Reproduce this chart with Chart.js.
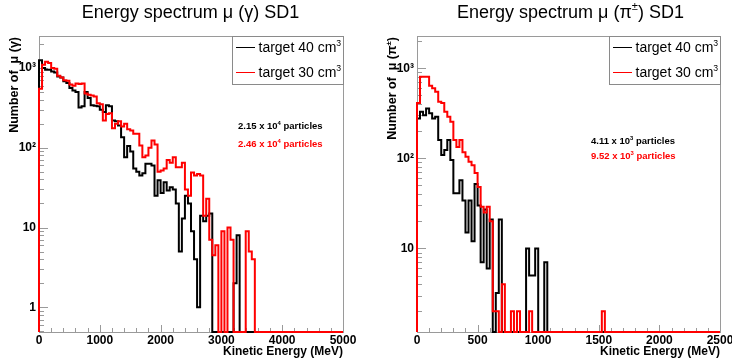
<!DOCTYPE html>
<html>
<head>
<meta charset="utf-8">
<script src="https://cdn.jsdelivr.net/npm/chart.js@4.4.1/dist/chart.umd.min.js"></script>
<style>
  body { margin: 0; background: #fff; }
  .panel { position: absolute; top: 0; width: 366px; height: 363px; }
</style>
</head>
<body>
<div class="panel" style="left:0"><canvas id="gamma" width="366" height="363"></canvas></div>
<div class="panel" style="left:366px"><canvas id="pion" width="366" height="363"></canvas></div>
<script>
// bin contents (empty bins = 0)
const gammaBinWidth = 50; // MeV
const gammaTarget40 = [1250, 1000, 950, 950, 900, 880, 780, 760, 680, 650,
    560, 520, 500, 320, 330, 500, 420, 340, 335, 330,
    300, 280, 340, 330, 220, 215, 190, 135, 76, 105,
    90, 55, 50, 45, 48, 63, 63, 60, 25, 39,
    27, 37, 29, 32, 30, 20, 5, 13, 25, 20,
    9, 4, 1, 14, 12, 14, 15, 0, 0, 0,
    0, 0, 0, 0, 2, 8, 0, 0, 0, 0];
const gammaTarget30 = [550, 1100, 1200, 1150, 1000, 980, 800, 760, 700, 690,
    620, 600, 640, 630, 640, 480, 460, 450, 440, 360,
    350, 220, 265, 270, 175, 200, 215, 185, 200, 170,
    165, 150, 150, 107, 76, 80, 100, 123, 110, 50,
    52, 55, 70, 65, 76, 57, 57, 65, 30, 25,
    49, 45, 47, 45, 14, 23, 7, 4.5, 6, 0,
    9, 0, 10, 7, 0, 0, 0, 0, 9, 5,
    4, 0];

const pionBinWidth = 25; // MeV
const pionTarget40 = [278, 330, 302, 359, 316, 278, 290, 160, 109, 124,
    160, 96, 41, 41, 57, 34, 15, 34, 12, 52,
    30, 7, 27, 6, 21, 0, 3.2, 21, 0, 0,
    0, 0, 0, 0, 0, 0, 10, 5, 5, 10,
    0, 0, 7, 0];
const pionTarget30 = [411, 807, 807, 807, 640, 600, 549, 425, 411, 330,
    290, 255, 160, 134, 160, 117, 104, 92, 84, 69,
    48, 29, 25, 29, 20, 2, 2, 0, 4, 0,
    0, 2, 0, 2, 0, 0, 0, 2, 0, 0,
    0, 0, 0, 0, 0, 0, 0, 0, 0, 0,
    0, 0, 0, 0, 0, 0, 0, 0, 0, 0,
    0, 2, 0];

const seriesLabels = ['target 40 cm^{3}', 'target 30 cm^{3}'];
const seriesColors = ['#000000', '#ff0000'];

const gammaTexts = ['2.15 x 10^{4} particles', '2.46 x 10^{4} particles'];
const pionTexts = ['4.11 x 10^{3} particles', '9.52 x 10^{3} particles'];

const supDigits = '⁰¹²³⁴⁵⁶⁷⁸⁹';
const fontFamily = '"Liberation Sans", Arial, sans-serif';

// step outline; empty bins sit on the frame bottom like ROOT draws them
function toSteps(counts, width, xMax, floor) {
    const f = c => (c > floor ? c : floor);
    const pts = [{x: 0, y: floor}];
    counts.forEach((c, i) => pts.push({x: i * width, y: f(c)}));
    pts.push({x: counts.length * width, y: floor});
    pts.push({x: xMax, y: floor});
    return pts;
}

function isPow10(v) {
    const e = Math.log10(v);
    return Math.abs(e - Math.round(e)) < 1e-9;
}

function logTickValues(min, max) {
    const out = [];
    for (let e = Math.floor(Math.log10(min)); e <= Math.ceil(Math.log10(max)); e++) {
        for (let d = 1; d <= 9; d++) {
            const v = d * Math.pow(10, e);
            if (v >= min && v <= max) out.push(v);
        }
    }
    return out;
}

// ROOT style "^{...}" superscripts
function richText(ctx, str, x, y, size, weight, color, align) {
    const parts = str.split(/\^\{([^}]*)\}/).map((t, i) => ({text: t, sup: i % 2 === 1}));
    const supSize = size * 0.62;
    const font = s => weight + ' ' + s + 'px ' + fontFamily;
    let total = 0;
    parts.forEach(p => { ctx.font = font(p.sup ? supSize : size); total += ctx.measureText(p.text).width; });
    let cx = align === 'center' ? x - total / 2 : align === 'right' ? x - total : x;
    ctx.fillStyle = color;
    ctx.textAlign = 'left';
    ctx.textBaseline = 'alphabetic';
    parts.forEach(p => {
        ctx.font = font(p.sup ? supSize : size);
        ctx.fillText(p.text, cx, p.sup ? y - size * 0.42 : y);
        cx += ctx.measureText(p.text).width;
    });
}

const rootFrame = {
    id: 'rootFrame',
    beforeDatasetsDraw(chart, args, opts) {
        const {ctx, chartArea: a, scales: {x, y}} = chart;
        ctx.save();
        ctx.strokeStyle = '#9a9a9a';
        ctx.lineWidth = 1;
        ctx.strokeRect(a.left + 0.5, a.top + 0.5, a.right - a.left, a.bottom - a.top);
        ctx.beginPath();
        y.ticks.forEach(t => {
            const py = Math.round(y.getPixelForValue(t.value)) + 0.5;
            ctx.moveTo(a.left, py);
            ctx.lineTo(a.left + (isPow10(t.value) ? 9 : 5), py);
        });
        x.ticks.forEach(t => {
            const px = Math.round(x.getPixelForValue(t.value)) + 0.5;
            ctx.moveTo(px, a.bottom);
            ctx.lineTo(px, a.bottom - (t.value % opts.major === 0 ? 7 : 4));
        });
        ctx.stroke();
        ctx.restore();
    },
    afterDatasetsDraw(chart, args, opts) {
        const {ctx, chartArea: a} = chart;
        ctx.save();
        // titles
        richText(ctx, opts.title, opts.titleX, 18, 18, 'normal', '#000', 'center');
        ctx.save();
        ctx.translate(a.left - 21, a.top + 1);
        ctx.rotate(-Math.PI / 2);
        richText(ctx, opts.yTitle, 0, 0, 12.5, 'bold', '#000', 'right');
        ctx.restore();
        // legend
        const bx = a.right - 111;
        ctx.fillStyle = '#fff';
        ctx.fillRect(bx, a.top, a.right - bx, 48);
        ctx.strokeStyle = '#8a8a8a';
        ctx.lineWidth = 1;
        ctx.strokeRect(bx + 0.5, a.top + 0.5, a.right - bx, 48);
        [0, 1].forEach(i => {
            const ly = a.top + 11 + i * 24.5;
            ctx.strokeStyle = seriesColors[i];
            ctx.beginPath();
            ctx.moveTo(bx + 4, Math.round(ly) + 0.5);
            ctx.lineTo(bx + 23, Math.round(ly) + 0.5);
            ctx.stroke();
            richText(ctx, seriesLabels[i], bx + 26.5, ly + 5, 14, 'normal', '#000', 'left');
        });
        // particle counts
        opts.notes.forEach((n, i) => {
            richText(ctx, n, opts.noteX, opts.noteY[i], 9.5, 'bold', seriesColors[i], 'left');
        });
        ctx.restore();
    }
};

function makePanel(id, p) {
    new Chart(document.getElementById(id), {
        type: 'line',
        data: {
            datasets: [
                {
                    label: seriesLabels[0],
                    data: toSteps(p.target40, p.binWidth, p.xMax, p.yMin),
                    borderColor: seriesColors[0],
                    order: 1
                },
                {
                    label: seriesLabels[1],
                    data: toSteps(p.target30, p.binWidth, p.xMax, p.yMin),
                    borderColor: seriesColors[1],
                    order: 0
                }
            ]
        },
        options: {
            responsive: false,
            animation: false,
            events: [],
            layout: { padding: { top: 36, right: p.rightPad, left: 0, bottom: 0 } },
            elements: {
                point: { radius: 0 },
                line: { borderWidth: 2, stepped: 'before', tension: 0, fill: false, borderJoinStyle: 'miter' }
            },
            datasets: { line: { clip: 3 } },
            scales: {
                x: {
                    type: 'linear',
                    min: 0,
                    max: p.xMax,
                    grid: { display: false, drawTicks: false },
                    border: { display: false },
                    afterBuildTicks: s => {
                        const t = [];
                        for (let v = 0; v <= p.xMax; v += p.xMinor) t.push({value: v});
                        s.ticks = t;
                    },
                    afterFit: s => { s.height = 31; s.paddingLeft = 0; s.paddingRight = 0; },
                    ticks: {
                        autoSkip: false,
                        maxRotation: 0,
                        minRotation: 0,
                        padding: 1,
                        color: '#000',
                        font: { family: fontFamily, size: 12, weight: 'bold' },
                        callback: v => (v % p.xMajor === 0 ? String(v) : '')
                    },
                    title: {
                        display: true,
                        text: 'Kinetic Energy (MeV)',
                        align: 'end',
                        color: '#000',
                        font: { family: fontFamily, size: 12, weight: 'bold' },
                        padding: { top: 0, bottom: 4 }
                    }
                },
                y: {
                    type: 'logarithmic',
                    min: p.yMin,
                    max: p.yMax,
                    grid: { display: false, drawTicks: false },
                    border: { display: false },
                    afterBuildTicks: s => { s.ticks = logTickValues(p.yMin, p.yMax).map(v => ({value: v})); },
                    afterFit: s => { s.width = p.yAxisWidth; s.paddingTop = 0; s.paddingBottom = 0; },
                    ticks: {
                        autoSkip: false,
                        padding: 3,
                        color: '#000',
                        font: { family: fontFamily, size: 12, weight: 'bold' },
                        callback: v => {
                            if (!isPow10(v)) return '';
                            const e = Math.round(Math.log10(v));
                            return e < 2 ? String(Math.pow(10, e)) : '10' + supDigits[e];
                        }
                    }
                }
            },
            plugins: {
                legend: { display: false },
                tooltip: { enabled: false },
                rootFrame: {
                    major: p.xMajor,
                    title: p.title,
                    titleX: p.titleX,
                    yTitle: p.yTitle,
                    notes: p.notes,
                    noteX: p.noteX,
                    noteY: p.noteY
                }
            }
        },
        plugins: [rootFrame]
    });
}

makePanel('gamma', {
    target40: gammaTarget40, target30: gammaTarget30, binWidth: gammaBinWidth,
    xMax: 5000, xMinor: 200, xMajor: 1000, yMin: 0.49, yMax: 2515,
    yAxisWidth: 39, rightPad: 23,
    title: 'Energy spectrum μ (γ) SD1', titleX: 190.5,
    yTitle: 'Number of  μ (γ)',
    notes: gammaTexts, noteX: 238, noteY: [129.3, 146.7]
});

makePanel('pion', {
    target40: pionTarget40, target30: pionTarget30, binWidth: pionBinWidth,
    xMax: 2500, xMinor: 100, xMajor: 500, yMin: 1.18, yMax: 2285,
    yAxisWidth: 51, rightPad: 12,
    title: 'Energy spectrum μ (π^{±}) SD1', titleX: 204.5,
    yTitle: 'Number of  μ (π^{±})',
    notes: pionTexts, noteX: 225, noteY: [144, 159.3]
});
</script>
</body>
</html>
